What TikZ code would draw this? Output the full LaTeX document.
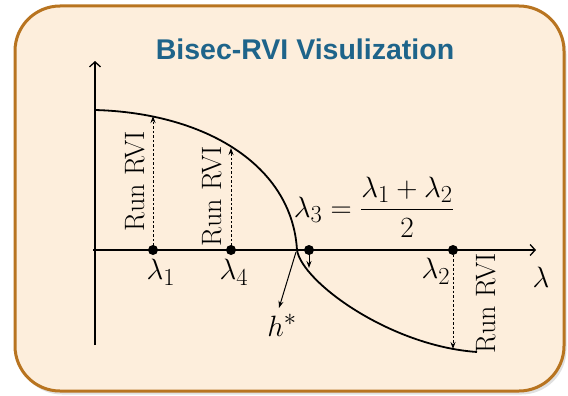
\documentclass[tikz,border=0pt]{standalone}
\usepackage{fontspec}
\usetikzlibrary{arrows.meta}
\newfontfamily\titlefont{Liberation Sans}
\definecolor{panelfill}{RGB}{253,238,220}
\definecolor{panelborder}{RGB}{184,116,32}
\definecolor{titleblue}{RGB}{30,100,138}
\tikzset{
  axisline/.style={line width=1.5pt,-{Straight Barb[length=5pt,width=11pt,line width=1.3pt]}},
  curveline/.style={line width=1.8pt},
  rvi/.style={line width=0.9pt,dashed,dash pattern=on 2.5pt off 2pt,-{Stealth[length=7pt,width=5pt]}},
  solidarrow/.style={line width=1pt,-{Stealth[length=7pt,width=5pt]}},
  dot/.style={circle,fill=black,inner sep=0pt,minimum size=10pt},
  lab/.style={font=\fontsize{24.88}{28}\selectfont,inner sep=0pt,scale=1.18},
  runlab/.style={font=\fontsize{28}{30}\selectfont,rotate=90,inner sep=0pt},
}
\begin{document}
\begin{tikzpicture}[x=1pt,y=-1pt]
\useasboundingbox (0,0) rectangle (568,396);
% panel
\fill[black!12,rounded corners=45pt] (17,9) rectangle (566.5,394.5);
\draw[line width=3pt,draw=panelborder,fill=panelfill,rounded corners=45pt] (15,6) rectangle (564,391);
\node[font=\titlefont\bfseries\fontsize{28.5}{32}\selectfont,text=titleblue] (title) at (305,49) {Bisec-RVI Visulization};
% axes
\coordinate (yb) at (95,345);
\coordinate (yt) at (95,61);
\coordinate (xl) at (93,250);
\coordinate (xr) at (536,250);
\draw[axisline] (yb) -- (yt);
\draw[axisline] (xl) -- (xr);
% curve
\coordinate (c0) at (95,110);
\coordinate (cx) at (297,250);
\coordinate (c1) at (477,352);
\draw[curveline] (c0) .. controls (205,113) and (292,165) .. (cx)
                 .. controls (302,282) and (390,346) .. (c1);
% points on axis
\node[dot] (l1) at (153,250) {};
\node[dot] (l4) at (231,250) {};
\node[dot] (l3) at (309,250) {};
\node[dot] (l2) at (453,250) {};
% points on curve
\coordinate (p1) at (153,116);
\coordinate (p4) at (231,148);
\coordinate (p3) at (309,268);
\coordinate (p2) at (453,349);
\draw[rvi] (l1.center) -- (p1);
\draw[rvi] (l4.center) -- (p4);
\draw[rvi] (l2.center) -- (p2);
\draw[solidarrow] (l3.center) -- (p3);
% h*
\coordinate (hs) at (296,252);
\coordinate (he) at (279,308);
\draw[solidarrow] (hs) -- (he);
\node[lab] (hstar) at (282,325) {$h^*$};
% labels
\node[lab] (t1) at (161,272) {$\lambda_1$};
\node[lab] (t4) at (234,272) {$\lambda_4$};
\node[lab] (t2) at (436,271) {$\lambda_2$};
\node[lab] (tl) at (541,277) {$\lambda$};
\node[lab] (eq) at (374,207) {$\displaystyle \lambda_3 = \frac{\lambda_1+\lambda_2}{2}$};
\node[runlab] (r1) at (135,181) {Run RVI};
\node[runlab] (r4) at (212,196) {Run RVI};
\node[runlab] (r2) at (486,303) {Run RVI};
\end{tikzpicture}
\end{document}
